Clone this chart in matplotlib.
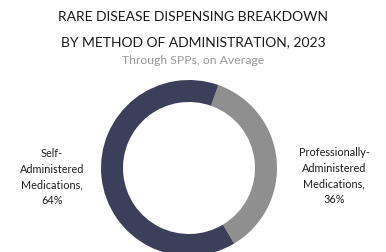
import matplotlib
matplotlib.use("Agg")
import matplotlib.pyplot as plt

categories = ["Professionally-\nAdministered\nMedications", "Self-\nAdministered\nMedications"]
values = [36, 64]
colors = ["#8f8f8f", "#3b3f59"]

title_lines = ["RARE DISEASE DISPENSING BREAKDOWN", "BY METHOD OF ADMINISTRATION, 2023"]
subtitle = "Through SPPs, on Average"

W, H = 386, 252
fig = plt.figure(figsize=(W / 100, H / 100), dpi=100)
plt.rcParams['font.family'] = ['Lato', 'DejaVu Sans']

def fx(x):
    return x / W

def fy(y):
    return 1 - y / H

# donut axes: center (189,168), radius 88 px
cx, cy, r = 189, 168, 88
ax = fig.add_axes([fx(cx - r), fy(cy + r), 2 * r / W, 2 * r / H])
ax.pie(values, colors=colors, startangle=70.5, counterclock=False, radius=1,
       wedgeprops=dict(width=0.25, edgecolor="none"))
ax.set_xlim(-1, 1)
ax.set_ylim(-1, 1)
ax.set_aspect("auto")
ax.axis("off")

fig.text(0.5, fy(17), title_lines[0], ha="center", va="center", fontsize=10, color="#1a1a1a")
fig.text(0.5, fy(42), title_lines[1], ha="center", va="center", fontsize=10, color="#1a1a1a")
fig.text(0.5, fy(61), subtitle, ha="center", va="center", fontsize=8.8, color="#9a9a9a")

lab_kw = dict(ha="center", va="center", fontsize=7.8, color="#1e1e1e", linespacing=1.5)
fig.text(fx(52), fy(177), f"{categories[1]},\n{values[1]}%", **lab_kw)
fig.text(fx(334), fy(176), f"{categories[0]},\n{values[0]}%", **lab_kw)

fig.savefig("out.png", dpi=100, facecolor="white")
